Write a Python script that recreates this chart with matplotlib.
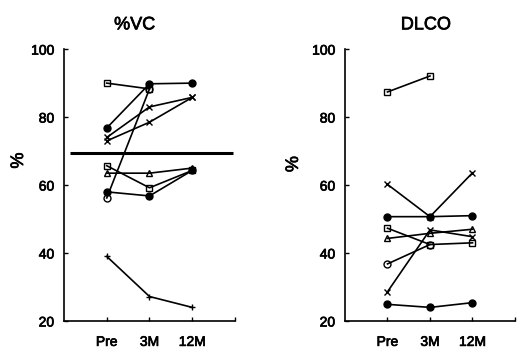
import numpy as np
import matplotlib
matplotlib.use("Agg")
import matplotlib.pyplot as plt
import matplotlib.patheffects as pe

plt.rcParams['font.family'] = ['Liberation Sans', 'DejaVu Sans']

time_labels = ['Pre', '3M', '12M']
time_pos = [1, 2, 3]

# %VC per patient (nan = no value)
vc_series = [
    ('s', 'none', [90.0, 88.3, np.nan]),
    ('o', 'black', [76.8, 89.8, 90.0]),
    ('x', 'none', [74.0, 83.0, 85.8]),
    ('x', 'none', [73.0, 78.5, 85.8]),
    ('s', 'none', [65.7, 59.2, 64.3]),
    ('^', 'none', [63.5, 63.5, 65.0]),
    ('o', 'black', [58.0, 56.8, 64.3]),
    ('o', 'none', [56.2, 88.3, np.nan]),
    ('+', 'none', [39.0, 27.2, 24.0]),
]
vc_mean = 69.5

# DLCO per patient
dlco_series = [
    ('s', 'none', [87.4, 92.1, np.nan]),
    ('x', 'none', [60.2, 50.7, 63.6]),
    ('o', 'black', [50.7, 50.7, 51.0]),
    ('s', 'none', [47.3, 42.5, 43.0]),
    ('^', 'none', [44.3, 45.8, 47.0]),
    ('x', 'none', [28.6, 46.8, 44.8]),
    ('o', 'none', [36.8, 42.5, np.nan]),
    ('o', 'black', [24.9, 24.0, 25.4]),
]

# slightly heavier text, like the scanned original
heavy = [pe.withStroke(linewidth=0.5, foreground='black')]


def draw_panel(ax, series, title, title_x, ylabel_xy):
    for marker, face, vals in series:
        ax.plot(time_pos, vals, color='black', lw=1.2, marker=marker,
                markersize=5, markerfacecolor=face, markeredgecolor='black',
                markeredgewidth=1.0)
    ax.set_xlim(0, 4)
    ax.set_ylim(20, 100)
    ax.set_xticks([1, 2, 3, 4])
    ax.set_xticklabels(time_labels + [''])
    ax.set_yticks([20, 40, 60, 80, 100])
    ax.tick_params(direction='in', length=3, labelsize=10, width=1)
    ax.tick_params(axis='x', pad=10)
    ax.tick_params(axis='y', pad=7)
    for lbl in ax.get_xticklabels() + ax.get_yticklabels():
        lbl.set_path_effects(heavy)
    ax.spines['top'].set_visible(False)
    ax.spines['right'].set_visible(False)
    ax.spines['left'].set_linewidth(1.2)
    ax.spines['bottom'].set_linewidth(1.2)
    ax.set_ylabel('%', fontsize=13, path_effects=heavy)
    ax.yaxis.set_label_coords(*ylabel_xy)
    ax.text(title_x, 1.058, title, transform=ax.get_xaxis_transform(),
            ha='center', va='bottom', fontsize=13, path_effects=heavy)


fig = plt.figure(figsize=(5.19, 3.51), dpi=100)
ax1 = fig.add_axes([0.1233, 0.0855, 0.3295, 0.7745])
ax2 = fig.add_axes([0.6647, 0.0855, 0.3276, 0.7745])

draw_panel(ax1, vc_series, '%VC', 1.65, (-0.216, 0.59))
ax1.hlines(vc_mean, 0.15, 3.95, color='black', lw=2.2)

draw_panel(ax2, dlco_series, 'DLCO', 1.9, (-0.253, 0.577))

fig.savefig('out.png', dpi=100)
